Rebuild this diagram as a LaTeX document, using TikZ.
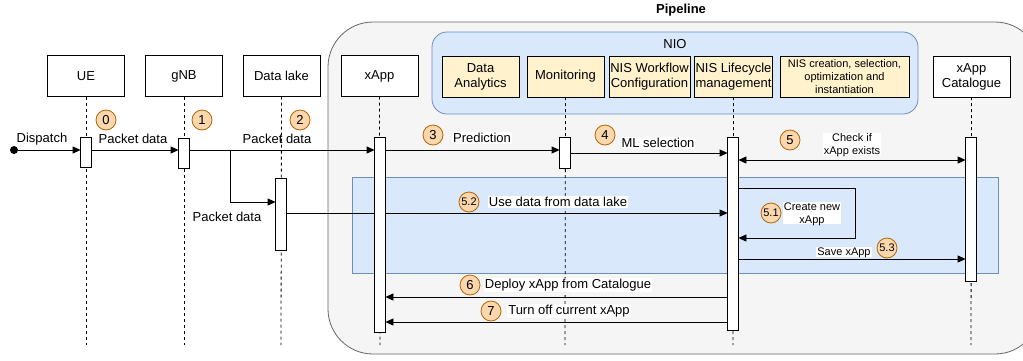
\documentclass[tikz,border=0pt]{standalone}
\usepackage{fontspec}
\setmainfont{Liberation Sans}
\usetikzlibrary{arrows.meta}
\definecolor{pipefill}{HTML}{F5F5F5}
\definecolor{pipeline}{HTML}{666666}
\definecolor{bluefill}{HTML}{DAE8FC}
\definecolor{blueline}{HTML}{6C8EBF}
\definecolor{yelfill}{HTML}{FFF2CC}
\definecolor{numfill}{HTML}{FAD7AC}
\definecolor{numline}{HTML}{B46504}
\newcommand{\fsmain}{\fontsize{13}{15}\selectfont}
\newcommand{\fssmall}{\fontsize{11}{13}\selectfont}
\tikzset{
  actor/.style={draw=black, fill=white, minimum width=77pt, minimum height=41pt,
    inner sep=1pt, align=center, font=\fsmain},
  niobox/.style={draw=black, fill=yelfill, minimum width=77pt, minimum height=41pt,
    inner sep=1pt, align=center, font=\fsmain},
  bar/.style={draw=black, fill=white, minimum width=10pt, inner sep=0pt, line width=0.8pt},
  life/.style={dashed, dash pattern=on 3pt off 3pt, line width=0.8pt},
  msg/.style={line width=0.8pt, -{Triangle[length=8pt,width=7pt]}},
  lbl/.style={font=\fsmain, inner sep=1pt},
  wlbl/.style={font=\fsmain, inner sep=1pt, fill=white},
  slbl/.style={font=\fssmall, inner sep=1pt, fill=white, align=center, text depth=0pt},
  num/.style={circle, fill=numfill, draw=numline, line width=0.8pt, minimum size=20pt,
    inner sep=0pt, font=\fsmain},
  snum/.style={num, font=\fssmall},
}
\begin{document}
\begin{tikzpicture}[x=1pt, y=-1pt]
\useasboundingbox (0,0) rectangle (1023,360);
\clip (0,0) rectangle (1023,360);

% pipeline container
\draw[fill=pipefill, draw=pipeline, line width=0.8pt, rounded corners=45pt]
  (328,22) rectangle (1040,354);
\node[font=\fsmain\bfseries] (ptitle) at (681,10) {Pipeline};

% NIO group
\draw[fill=bluefill, draw=blueline, line width=0.8pt, rounded corners=15pt]
  (432,32) rectangle (918,114);
\node[font=\fsmain] (niotitle) at (675,44) {NIO};

% participants
\node[actor] (ue)   at (86,76)    {UE};
\node[actor] (gnb)  at (184,76)   {gNB};
\node[actor] (dl)   at (281.5,76) {Data lake};
\node[actor] (xapp) at (379.5,76) {xApp};
\node[niobox] (da)  at (480.5,76.5) {Data\\Analytics};
\node[niobox] (mon) at (565.5,76.5) {Monitoring};
\node[niobox] (wf)  at (649.5,76.5) {NIS Workflow\\Configuration};
\node[niobox] (lc)  at (733.5,76.5) {NIS Lifecycle\\management};
\node[niobox, minimum width=129pt, font=\fssmall] (cr) at (844.5,76.5)
  {NIS creation, selection,\\optimization and\\instantiation};
\node[actor] (cat)  at (971.5,76.5) {xApp\\Catalogue};

% highlighted band for the lifecycle sub-steps
\draw[fill=bluefill, draw=blueline, line width=0.8pt] (352,177) rectangle (998,273);

% lifelines
\coordinate (ueE)   at (86,345);
\coordinate (gnbE)  at (184,345);
\coordinate (dlE)   at (281,345);
\coordinate (xappE) at (380,345);
\coordinate (monE)  at (565,345);
\coordinate (lcE)   at (733,345);
\coordinate (catE)  at (971,345);
\draw[life] (ue.south)   -- (ueE);
\draw[life] (gnb.south)  -- (gnbE);
\draw[life] (dl.south)   -- (dlE);
\draw[life] (xapp.south) -- (xappE);
\draw[life] (mon.south)  -- (monE);
\draw[life] (lc.south)   -- (lcE);
\draw[life] (cat.south)  -- (catE);

% activation bars
\node[bar, anchor=north, minimum height=30pt]  (bue)  at (86,137)  {};
\node[bar, anchor=north, minimum height=30pt]  (bgnb) at (184,138) {};
\node[bar, anchor=north, minimum height=72pt]  (bdl)  at (281,178) {};
\node[bar, anchor=north, minimum height=195pt] (bx)   at (380,137) {};
\node[bar, anchor=north, minimum height=31pt]  (bmon) at (565,137) {};
\node[bar, anchor=north, minimum height=193pt] (blc)  at (733,137) {};
\node[bar, anchor=north, minimum height=144pt] (bcat) at (971,137) {};

% messages
\node[circle, fill=black, inner sep=0pt, minimum size=8pt] (start) at (14,150) {};
\draw[msg] (start) -- (bue.west |- start);
\draw[msg] (bue.east |- start) -- (bgnb.west |- start);
\draw[msg] (bgnb.east |- start) -- (bx.west |- start);
\coordinate (split) at (230,150);
\draw[msg] (split) -- (230,202) -- (bdl.west |- 0,202);
\draw[msg] (bdl.east |- 0,213) -- (blc.west |- 0,213);
\draw[msg] (bx.east |- start) -- (bmon.west |- start);
\draw[msg] (bmon.east |- 0,153) -- (blc.west |- 0,153);
\draw[line width=0.8pt, {Triangle[length=8pt,width=7pt]}-{Triangle[length=8pt,width=7pt]}]
  (blc.east |- 0,160) -- (bcat.west |- 0,160);
\draw[msg] (blc.east |- 0,188) -- (855,188) -- (855,238) -- (blc.east |- 0,238);
\draw[msg] (blc.east |- 0,259) -- (bcat.west |- 0,259);
\draw[msg] (blc.west |- 0,297) -- (bx.east |- 0,297);
\draw[msg] (blc.west |- 0,322) -- (bx.east |- 0,322);

% redraw bars above the message lines
\foreach \b in {bue,bgnb,bdl,bx,bmon,blc,bcat}
  \draw[fill=white, line width=0.8pt] (\b.north west) rectangle (\b.south east);

% labels
\node[lbl] (l0) at (42,139)  {Dispatch};
\node[lbl] (l1) at (133,139) {Packet data};
\node[lbl] (l2) at (277,139) {Packet data};
\node[lbl] (l3) at (227,217) {Packet data};
\node[wlbl] (l4) at (482,138) {Prediction};
\node[wlbl] (l5) at (658,143) {ML selection};
\node[slbl] (l6) at (852,144) {Check if\\xApp exists};
\node[wlbl] (l7) at (558,202) {Use data from data lake};
\node[slbl] (l8) at (812,213) {Create new\\xApp};
\node[slbl] (l9) at (844,252) {Save xApp};
\node[wlbl] (l10) at (568,285) {Deploy xApp from Catalogue};
\node[wlbl] (l11) at (569,311) {Turn off current xApp};

% step numbers
\node[num] (n0) at (106,120) {0};
\node[num] (n1) at (202,120) {1};
\node[num] (n2) at (300,120) {2};
\node[num] (n3) at (433,135) {3};
\node[num] (n4) at (605,135) {4};
\node[num] (n5) at (790,140) {5};
\node[snum] (n51) at (771,213) {5.1};
\node[snum] (n52) at (469,202) {5.2};
\node[snum] (n53) at (887,248) {5.3};
\node[num] (n6) at (470,285) {6};
\node[num] (n7) at (491,311) {7};
\end{tikzpicture}
\end{document}
